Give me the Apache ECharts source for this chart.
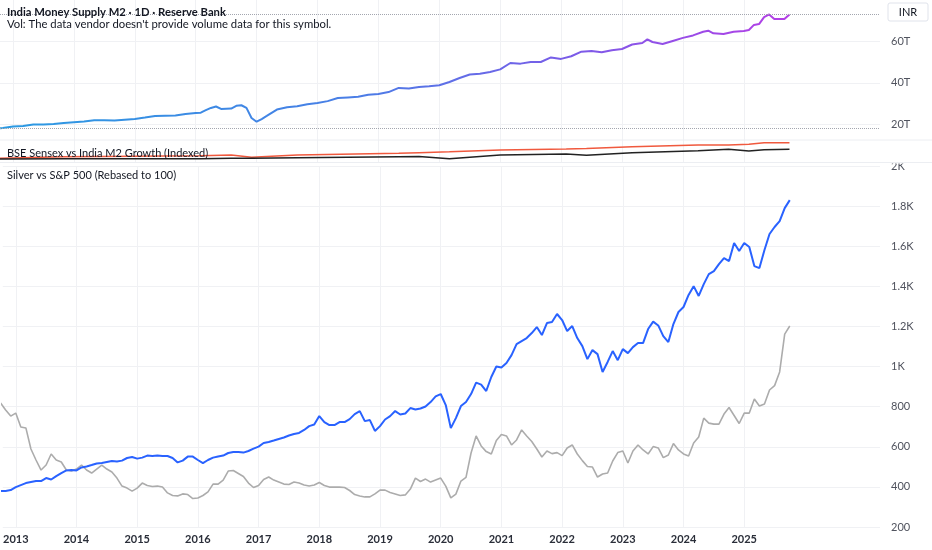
<!DOCTYPE html>
<html>
<head>
<meta charset="utf-8">
<script src="https://cdn.jsdelivr.net/npm/echarts@6/dist/echarts.min.js"></script>
<style>
html,body{margin:0;padding:0;background:#ffffff;}
#c{width:932px;height:550px;}
</style>
</head>
<body>
<div id="c"></div>
<script>
// ---------- DATA ----------
const yearTicks = [2013,2014,2015,2016,2017,2018,2019,2020,2021,2022,2023,2024,2025];

// India Money Supply M2 (trillion INR)
const m2Months = ['2012-10','2012-11','2013-01','2013-03','2013-05','2013-07','2013-09','2013-11',
 '2014-01','2014-03','2014-05','2014-07','2014-09','2014-11','2015-01','2015-03','2015-05','2015-07',
 '2015-09','2015-11','2016-01','2016-02','2016-03','2016-04','2016-05','2016-06','2016-07','2016-08',
 '2016-09','2016-10','2016-11','2016-12','2017-01','2017-02','2017-03','2017-05','2017-07','2017-09',
 '2017-11','2018-01','2018-03','2018-05','2018-07','2018-09','2018-11','2019-01','2019-03','2019-05',
 '2019-07','2019-09','2019-11','2020-01','2020-03','2020-05','2020-07','2020-09','2020-11','2021-01',
 '2021-03','2021-05','2021-07','2021-09','2021-11','2022-01','2022-03','2022-05','2022-07','2022-09',
 '2022-11','2023-01','2023-03','2023-05','2023-06','2023-07','2023-09','2023-11','2024-01','2024-03',
 '2024-05','2024-06','2024-07','2024-09','2024-11','2025-01','2025-02','2025-03','2025-04','2025-05',
 '2025-06','2025-07','2025-09','2025-10'];
const m2Trillions = [17.8,18.1,18.8,19.0,19.8,19.7,20.0,20.5,
 20.9,21.2,21.8,21.8,21.7,22.1,22.4,23.1,23.9,24.0,
 24.1,24.9,25.3,25.5,26.7,27.8,28.5,27.3,27.4,27.5,
 28.8,29.1,27.8,22.9,21.1,22.4,23.9,27.0,28.1,28.6,
 29.6,30.2,31.1,32.6,32.9,33.2,34.2,34.6,35.5,37.5,
 37.2,38.0,38.3,38.8,40.4,42.3,44.0,44.4,45.2,46.5,
 49.6,49.3,50.1,50.1,52.3,51.6,52.9,55.1,55.4,54.8,
 55.8,56.4,58.6,59.3,61.1,59.8,58.8,60.3,61.8,63.0,
 64.8,65.3,64.0,63.7,64.8,65.1,65.6,68.1,68.5,71.9,
 73.2,71.0,71.0,73.2];

// BSE Sensex vs India M2 Growth (Indexed)
const midMonths = ['2012-10','2013-11','2016-02','2016-08','2016-12','2017-09','2019-05','2019-09',
 '2020-03','2021-01','2022-02','2022-06','2023-03','2024-04','2024-10','2025-02','2025-05','2025-10'];
const m2GrowthIndexed = [106,152,180,200,135,200,249,266,290,344,372,385,438,487,487,507,553,553];
const sensexIndexed   = [86,90,95,105,108,123,152,155,95,200,229,192,266,324,364,315,352,364];

// Silver vs S&P 500 (Rebased to 100) - monthly from 2012-10
const ratioStartMonth = '2012-10';
const sp500Rebased = [380,380,384,399,409,419,424,429,429,444,437,454,469,482,484,482,497,502,509,517,
 519,524,529,527,531,544,549,541,546,556,554,556,554,554,544,522,531,551,551,534,
 519,534,546,551,556,569,574,574,571,579,591,601,619,624,631,639,646,656,664,669,
 684,703,711,753,723,708,708,723,723,738,763,778,728,733,679,703,736,753,778,761,
 766,793,786,791,801,823,851,863,808,693,743,803,823,863,920,910,878,948,1000,995,
 1018,1057,1112,1127,1142,1167,1197,1157,1217,1222,1262,1232,1177,1202,1142,1102,1037,1082,1062,973,
 1023,1077,1032,1087,1067,1097,1117,1117,1187,1224,1205,1152,1122,1212,1272,1297,1357,1401,1352,1411,
 1461,1476,1511,1541,1526,1616,1576,1616,1596,1501,1491,1581,1661,1696,1725,1790,1830];
const silverRebased = [818,783,753,768,699,694,589,534,484,509,564,534,524,484,479,489,509,484,469,489,
 509,489,474,444,404,394,379,394,419,407,402,404,399,370,357,355,365,362,342,345,
 357,375,414,414,434,479,482,467,452,419,397,407,437,449,434,424,414,412,424,419,
 409,404,409,422,407,399,399,399,397,382,362,355,350,350,365,384,384,372,365,357,
 360,389,444,427,439,424,434,444,404,345,364,429,447,569,654,604,576,564,631,661,
 654,609,634,684,654,626,589,549,579,566,571,556,594,609,564,531,502,499,449,464,
 469,529,571,579,519,579,609,584,564,601,594,546,559,616,584,564,554,619,649,743,
 718,713,713,763,796,756,716,768,768,838,803,813,883,905,973,1162,1202];

// ---------- HELPERS ----------
function toYear(m){ const p = m.split('-').map(Number); return p[0] + (p[1]-1)/12; }
function monthsFrom(start, n){
  const p = start.split('-').map(Number); const out = [];
  for (let i=0;i<n;i++){ const t=(p[0]*12+(p[1]-1))+i; out.push(Math.floor(t/12)+'-'+String(t%12+1).padStart(2,'0')); }
  return out;
}
const ratioMonths = monthsFrom(ratioStartMonth, sp500Rebased.length);
const pair = (months, vals) => months.map((m,i)=>[toYear(m), vals[i]]);

const X_MIN = 2012.7865, X_MAX = 2027.2365;
const FONT = 'Lato, "Open Sans", sans-serif';
const GRID_R = 52;
const splitCol = '#f0f1f4';

function xAxis(i, showLabel){
  return {
    type:'value', gridIndex:i, min:X_MIN, max:X_MAX,
    axisLine:{show:false},
    axisTick:{show:false, customValues:yearTicks},
    axisLabel:{show:showLabel, customValues:yearTicks, formatter:v=>String(v),
      margin:7, fontSize:11, color:'#2a2e39', fontWeight:'bold', fontFamily:FONT},
    splitLine:{show:true, lineStyle:{color:splitCol, width:1}}
  };
}

const chart = echarts.init(document.getElementById('c'));
chart.setOption({
  animation:false,
  backgroundColor:'#ffffff',
  grid:[
    {left:0, right:GRID_R, top:0, height:140},
    {left:0, right:GRID_R, top:140, height:22},
    {left:0, right:GRID_R, top:166, height:361}
  ],
  xAxis:[xAxis(0,false), xAxis(1,false), xAxis(2,true)],
  yAxis:[
    {type:'value', gridIndex:0, position:'right', min:12.23, max:80.19,
     axisLine:{show:false}, axisTick:{show:false, customValues:[20,40,60]},
     axisLabel:{customValues:[20,40,60], formatter:v=>v+'T', margin:11, fontSize:11, color:'#50535e', fontFamily:FONT},
     splitLine:{show:true, lineStyle:{color:splitCol}}},
    {type:'value', gridIndex:1, min:0, max:630, show:false, splitLine:{show:false}},
    {type:'value', gridIndex:2, position:'right', min:200, max:2000, interval:200,
     axisLine:{show:false}, axisTick:{show:false},
     axisLabel:{formatter:v=> v>=1000 ? (v/1000)+'K' : String(v), margin:11, fontSize:11, color:'#50535e', fontFamily:FONT},
     splitLine:{show:true, lineStyle:{color:splitCol}}}
  ],
  series:[
    {name:'India Money Supply M2', type:'line', xAxisIndex:0, yAxisIndex:0, showSymbol:false,
     data:pair(m2Months, m2Trillions),
     lineStyle:{width:2, color:new echarts.graphic.LinearGradient(0,0,1,0,[
       {offset:0,color:'#2a9be2'},{offset:0.45,color:'#4a7ee6'},{offset:0.72,color:'#7a5ce8'},{offset:1,color:'#b53ee6'}])},
     markLine:{symbol:'none', silent:true, label:{show:false},
       lineStyle:{type:'dotted', color:'#a3a6af', width:1},
       data:[{type:'max'},{type:'min'}]}},
    {name:'India M2 Growth (Indexed)', type:'line', xAxisIndex:1, yAxisIndex:1, showSymbol:false,
     data:pair(midMonths, m2GrowthIndexed), lineStyle:{width:1.5, color:'#f0593e'}},
    {name:'BSE Sensex (Indexed)', type:'line', xAxisIndex:1, yAxisIndex:1, showSymbol:false,
     data:pair(midMonths, sensexIndexed), lineStyle:{width:1.5, color:'#222222'}},
    {name:'Silver (Rebased)', type:'line', xAxisIndex:2, yAxisIndex:2, showSymbol:false,
     data:pair(ratioMonths, silverRebased), lineStyle:{width:1.6, color:'#acacac'}},
    {name:'S&P 500 (Rebased)', type:'line', xAxisIndex:2, yAxisIndex:2, showSymbol:false,
     data:pair(ratioMonths, sp500Rebased), lineStyle:{width:2, color:'#2962ff'}}
  ],
  graphic:[
    {type:'rect', z:10, shape:{x:884,y:141,width:48,height:22.5}, style:{fill:'#ffffff'}},
    {type:'rect', z:10, shape:{x:884,y:531,width:48,height:19}, style:{fill:'#ffffff'}},
    {type:'line', z:11, shape:{x1:0,y1:140,x2:932,y2:140}, style:{stroke:'#eceef2', lineWidth:1}},
    {type:'line', z:11, shape:{x1:0,y1:162.5,x2:932,y2:162.5}, style:{stroke:'#eceef2', lineWidth:1}},
    {type:'rect', z:12, shape:{x:888,y:3,width:40,height:18,r:2}, style:{fill:'#ffffff', stroke:'#e0e3eb', lineWidth:1}},
    {type:'text', z:13, style:{x:908,y:12,text:'INR',align:'center',verticalAlign:'middle',fontSize:11,fontFamily:FONT,fill:'#131722'}},
    {type:'text', z:13, style:{x:7,y:12,text:'India Money Supply M2 · 1D · Reserve Bank',verticalAlign:'middle',fontSize:11.25,fontWeight:'bold',fontFamily:FONT,fill:'#131722'}},
    {type:'text', z:13, style:{x:7,y:24.5,text:"Vol: The data vendor doesn't provide volume data for this symbol.",verticalAlign:'middle',fontSize:11.3,fontFamily:FONT,fill:'#131722'}},
    {type:'text', z:13, style:{x:7,y:153,text:'BSE Sensex vs India M2 Growth (Indexed)',verticalAlign:'middle',fontSize:11,fontFamily:FONT,fill:'#131722'}},
    {type:'text', z:13, style:{x:7,y:175,text:'Silver vs S&P 500 (Rebased to 100)',verticalAlign:'middle',fontSize:11,fontFamily:FONT,fill:'#131722'}}
  ]
});
</script>
</body>
</html>
